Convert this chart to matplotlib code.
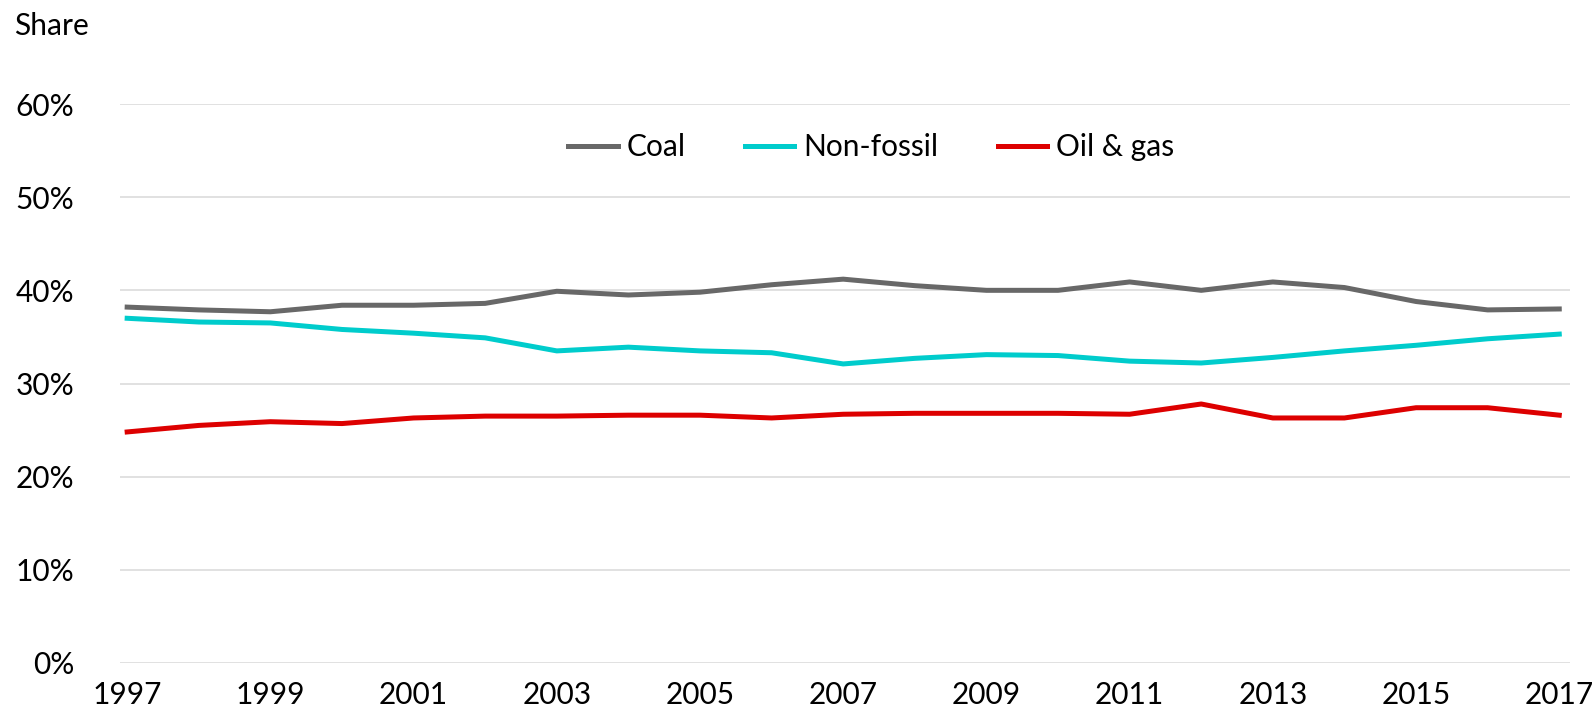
import matplotlib
matplotlib.use("Agg")
import matplotlib.pyplot as plt
from matplotlib.ticker import FuncFormatter

# Share of each source by year
years = list(range(1997, 2018))
coal = [38.2, 37.9, 37.7, 38.4, 38.4, 38.6, 39.9, 39.5, 39.8, 40.6, 41.2,
        40.5, 40.0, 40.0, 40.9, 40.0, 40.9, 40.3, 38.8, 37.9, 38.0]
non_fossil = [37.0, 36.6, 36.5, 35.8, 35.4, 34.9, 33.5, 33.9, 33.5, 33.3, 32.1,
              32.7, 33.1, 33.0, 32.4, 32.2, 32.8, 33.5, 34.1, 34.8, 35.3]
oil_gas = [24.8, 25.5, 25.9, 25.7, 26.3, 26.5, 26.5, 26.6, 26.6, 26.3, 26.7,
           26.8, 26.8, 26.8, 26.7, 27.8, 26.3, 26.3, 27.4, 27.4, 26.6]

series = [("Coal", coal, "#686868"),
          ("Non-fossil", non_fossil, "#00CCCC"),
          ("Oil & gas", oil_gas, "#DD0000")]

plt.rcParams["font.family"] = ["Lato", "DejaVu Sans"]
FS = 21.5

fig = plt.figure(figsize=(15.93, 7.11), dpi=100)
ax = fig.add_axes([120 / 1593, 1 - 663 / 711, 1450 / 1593, (663 - 104) / 711])

for name, vals, color in series:
    ax.plot(years, vals, color=color, lw=3.6, label=name)

ax.set_xlim(1996.9, 2017.15)
ax.set_ylim(0, 60)
ax.set_yticks(range(0, 61, 10))
ax.yaxis.set_major_formatter(FuncFormatter(lambda v, _: f"{v:.0f}%"))
ax.set_xticks(years[::2])
ax.grid(axis="y", color="#D9D9D9", lw=1.1)
ax.set_axisbelow(True)
for s in ax.spines.values():
    s.set_visible(False)
ax.tick_params(axis="both", length=0, labelsize=FS, colors="black")
ax.tick_params(axis="y", pad=33)
ax.tick_params(axis="x", pad=13)

ax.legend(loc="center", bbox_to_anchor=(0.547, 1 - 147 / 711),
          bbox_transform=fig.transFigure, ncol=3, frameon=False, fontsize=FS,
          handlelength=1.65, handletextpad=0.3, columnspacing=2.0)

fig.text(14 / 1593, 1 - 26 / 711, "Share", fontsize=FS, va="center", ha="left")

fig.savefig("out.png", dpi=100)
